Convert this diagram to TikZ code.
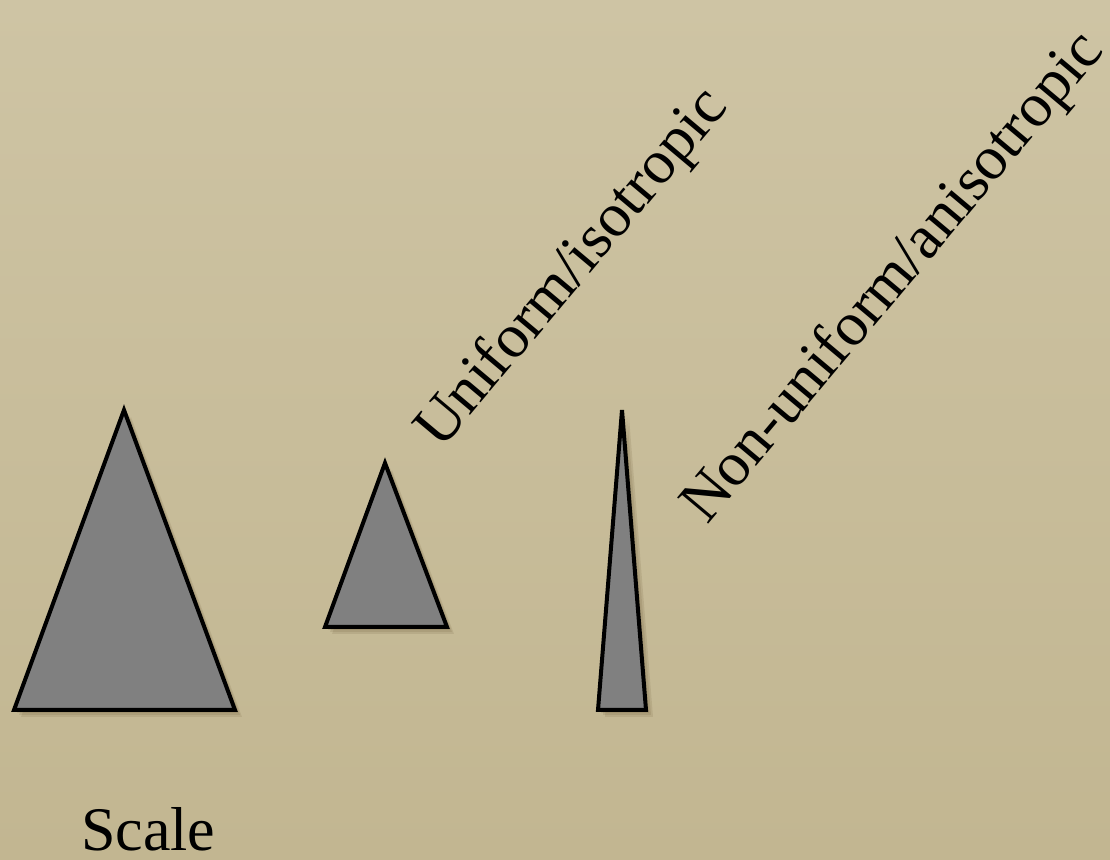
\documentclass[tikz,border=0pt]{standalone}
\usepackage{fontspec}
\setmainfont{Liberation Serif}
\definecolor{bgtop}{RGB}{206,196,164}
\definecolor{bgbot}{RGB}{194,182,145}
\definecolor{shadowc}{RGB}{90,70,35}
\definecolor{trifill}{RGB}{128,128,128}
\tikzset{
  tri/.style={fill=trifill, draw=black, line width=4pt, line join=miter},
  trishadow/.style={fill=shadowc, draw=none, opacity=0.12},
  lbl/.style={font=\fontsize{62}{62}\selectfont, inner sep=0pt, anchor=base west, text=black},
}
\begin{document}
\begin{tikzpicture}[x=1pt,y=1pt]
\useasboundingbox (0,0) rectangle (1110,859);
\shade[top color=bgtop, bottom color=bgbot] (0,0) rectangle (1110,859);
% soft shadows
\foreach \d in {3,5,7}{
  \fill[trishadow] ([shift={(\d,-\d)}]124,449) -- ([shift={(\d,-\d)}]14,149) -- ([shift={(\d,-\d)}]235,149) -- cycle;
  \fill[trishadow] ([shift={(\d,-\d)}]385,396) -- ([shift={(\d,-\d)}]325,232) -- ([shift={(\d,-\d)}]447,232) -- cycle;
  \fill[trishadow] ([shift={(\d,-\d)}]622,449) -- ([shift={(\d,-\d)}]598,149) -- ([shift={(\d,-\d)}]646,149) -- cycle;
}
% triangles
\draw[tri] (124,449) coordinate (a1) -- (14,149) coordinate (a2) -- (235,149) coordinate (a3) -- cycle;
\draw[tri] (385,396) coordinate (b1) -- (325,232) coordinate (b2) -- (447,232) coordinate (b3) -- cycle;
\draw[tri] (622,449) coordinate (c1) -- (598,149) coordinate (c2) -- (646,149) coordinate (c3) -- cycle;
% labels
\node[lbl, rotate=50] (uni) at (441,408) {Uniform/isotropic};
\node[lbl, rotate=50] (non) at (707,333) {Non-uniform/anisotropic};
\node[lbl] (scale) at (81,9) {Scale};
\end{tikzpicture}
\end{document}
